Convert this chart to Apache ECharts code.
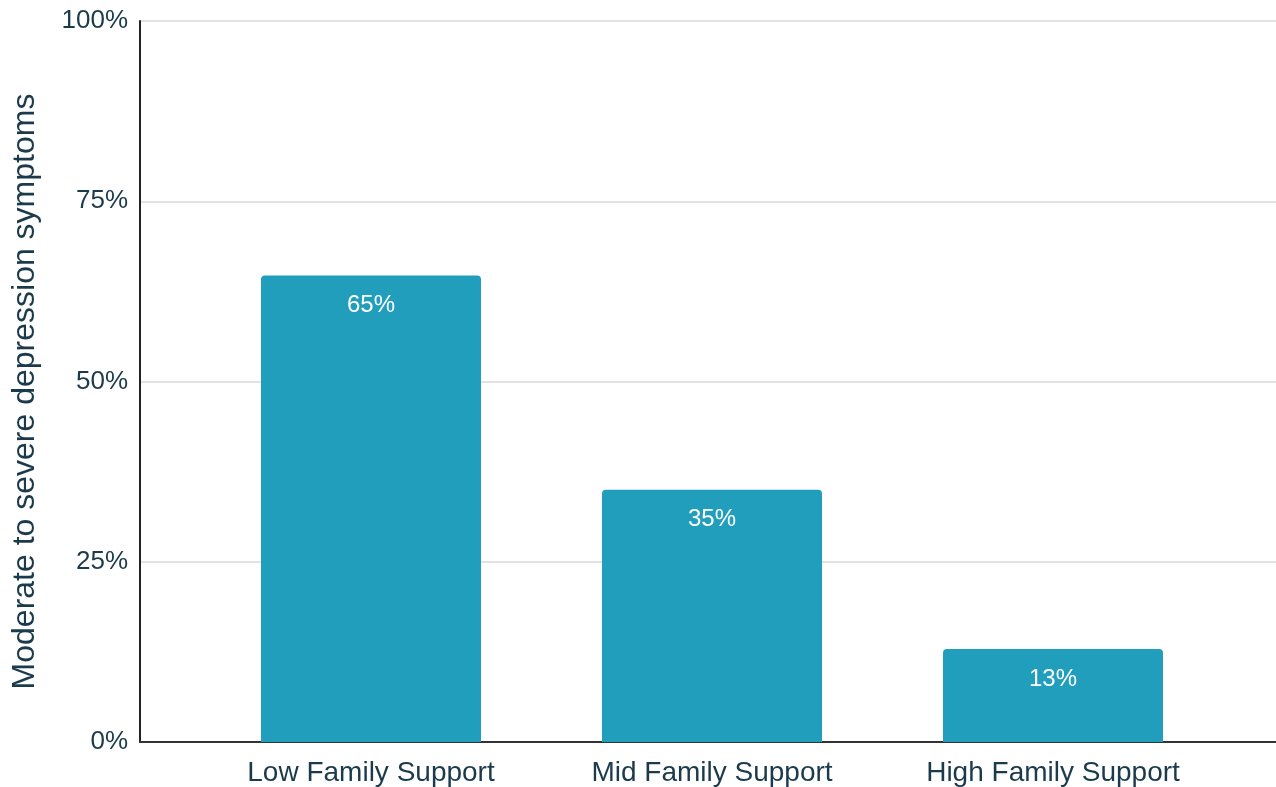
<!DOCTYPE html>
<html><head><meta charset="utf-8">
<script src="https://cdn.jsdelivr.net/npm/echarts@6/dist/echarts.min.js"></script>
<style>html,body{margin:0;padding:0;background:#fff}#c{width:1276px;height:787px}</style>
</head><body><div id="c"></div>
<script>
const categories = ["Low Family Support", "Mid Family Support", "High Family Support"];
const values = [64.7, 35, 12.9];
const valueLabels = ["65%", "35%", "13%"];
const yTicks = [0, 25, 50, 75, 100];
const yTitle = "Moderate to severe depression symptoms";

const txt = '#1b3a4b';
const font = 'Liberation Sans';
const chart = echarts.init(document.getElementById('c'));
chart.setOption({
  animation: false,
  textStyle: {fontFamily: font},
  grid: [
    {left: 140, right: 0, top: 21, bottom: 45, outerBoundsMode: 'none', containLabel: false},
    {left: 200.5, right: 52.5, top: 21, bottom: 45, outerBoundsMode: 'none', containLabel: false}
  ],
  xAxis: [
    {gridIndex: 0, type: 'category', data: categories, axisLine: {show: true, lineStyle: {color: '#333', width: 2}},
     axisTick: {show: false}, axisLabel: {show: false}},
    {gridIndex: 1, type: 'category', data: categories, axisLine: {show: false}, axisTick: {show: false},
     axisLabel: {color: txt, fontSize: 28, fontFamily: font, margin: 17}}
  ],
  yAxis: [
    {gridIndex: 0, type: 'value', min: 0, max: 100, interval: 25,
     axisLine: {show: true, lineStyle: {color: '#222', width: 2}}, axisTick: {show: false},
     axisLabel: {color: txt, fontSize: 26, fontFamily: font, margin: 12, padding: [8, 0, 0, 0],
       formatter: v => yTicks.includes(v) ? v + '%' : ''},
     splitLine: {lineStyle: {color: '#d9d9d9', width: 1.5}},
     name: yTitle, nameLocation: 'middle', nameGap: 99, nameRotate: 90,
     nameTextStyle: {color: txt, fontSize: 32, fontFamily: font, padding: [0, 20, 0, 0]}},
    {gridIndex: 1, type: 'value', min: 0, max: 100, interval: 25, show: false}
  ],
  series: [{
    type: 'bar', xAxisIndex: 1, yAxisIndex: 1, data: values, barWidth: 220,
    itemStyle: {color: '#219ebc', borderRadius: [4, 4, 0, 0]},
    label: {show: true, position: 'insideTop', distance: 18, color: '#fff', fontSize: 24, fontFamily: font,
      formatter: p => valueLabels[p.dataIndex]}
  }]
});
</script></body></html>
